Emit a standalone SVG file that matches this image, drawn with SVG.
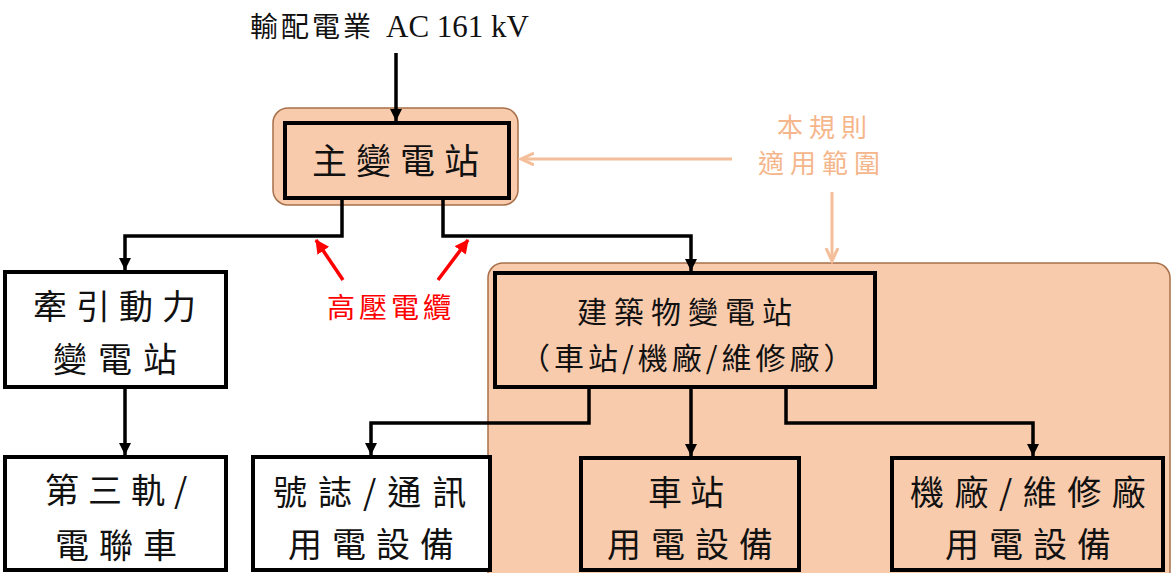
<svg xmlns="http://www.w3.org/2000/svg" width="1172" height="573" viewBox="0 0 1172 573">
<defs>
<style>
.box{fill:#fff;stroke:#000;stroke-width:4}
.obox{fill:#F8CBAD;stroke:#000;stroke-width:4}
.region{fill:#F8CBAD;stroke:#A8704A;stroke-width:1.5}
.t{font-family:"Noto Sans CJK TC","Noto Sans CJK SC",sans-serif;fill:#111}
.c{fill:none;stroke:#000;stroke-width:3.5}
.r{fill:none;stroke:#FF0000;stroke-width:3.5}
.o{fill:none;stroke:#F5BE9A;stroke-width:3}
</style>
<marker id="ab" markerUnits="userSpaceOnUse" markerWidth="14" markerHeight="14" refX="12" refY="6" orient="auto">
<path d="M0,0 L12,6 L0,12 Z" fill="#000"/>
</marker>
<marker id="ar" markerUnits="userSpaceOnUse" markerWidth="16" markerHeight="16" refX="13" refY="7" orient="auto">
<path d="M0,0 L14,7 L0,14 Z" fill="#FF0000"/>
</marker>
<marker id="ao" markerUnits="userSpaceOnUse" markerWidth="16" markerHeight="16" refX="13" refY="7" orient="auto">
<path d="M0,1 L13,7 L0,13" fill="none" stroke="#F5BE9A" stroke-width="3"/>
</marker>
</defs>
<rect width="1172" height="573" fill="#fff"/>

<g id="scope-region">
<rect class="region" x="488" y="263" width="682" height="340" rx="15"/>
</g>

<g id="top-source">
<text class="t" x="250" y="37" font-size="28" letter-spacing="3">輸配電業<tspan x="386" font-family="'Liberation Serif',serif" font-size="31" letter-spacing="0">AC 161 kV</tspan></text>
</g>

<g id="main-substation">
<rect class="region" x="273" y="108" width="245" height="97" rx="15"/>
<rect class="obox" x="285" y="123" width="224" height="75"/>
<text class="t" x="312" y="174" font-size="35" letter-spacing="9">主變電站</text>
</g>

<g id="traction-substation">
<rect class="box" x="5" y="272" width="221" height="115"/>
<text class="t" x="33" y="319" font-size="34" letter-spacing="9">牽引動力</text>
<text class="t" x="53" y="372" font-size="34" letter-spacing="11">變電站</text>
</g>

<g id="third-rail">
<rect class="box" x="5" y="457" width="221" height="113"/>
<text class="t" x="45" y="503" font-size="34" letter-spacing="9">第三軌/</text>
<text class="t" x="55" y="558" font-size="34" letter-spacing="10">電聯車</text>
</g>

<g id="signal-comm">
<rect class="box" x="253" y="457" width="237" height="113"/>
<text class="t" x="273" y="505" font-size="34" letter-spacing="11">號誌/通訊</text>
<text class="t" x="288" y="557" font-size="34" letter-spacing="10">用電設備</text>
</g>

<g id="building-substation">
<rect class="obox" x="495" y="273" width="380" height="114"/>
<text class="t" x="577" y="323" font-size="30" letter-spacing="7">建築物變電站</text>
<text class="t" x="520" y="369" font-size="30" letter-spacing="4">（車站/機廠/維修廠）</text>
</g>

<g id="station-equipment">
<rect class="obox" x="581" y="458" width="218" height="112"/>
<text class="t" x="690" y="505" font-size="34" letter-spacing="8" text-anchor="middle">車站</text>
<text class="t" x="607" y="557" font-size="34" letter-spacing="10">用電設備</text>
</g>

<g id="depot-equipment">
<rect class="obox" x="892" y="458" width="271" height="112"/>
<text class="t" x="910" y="505" font-size="34" letter-spacing="10.5">機廠/維修廠</text>
<text class="t" x="945" y="557" font-size="34" letter-spacing="10">用電設備</text>
</g>

<g id="scope-label">
<text x="777" y="137" font-family="'Noto Sans CJK TC',sans-serif" font-size="26" letter-spacing="6" fill="#F5B68C">本規則</text>
<text x="758" y="173" font-family="'Noto Sans CJK TC',sans-serif" font-size="26" letter-spacing="6" fill="#F5B68C">適用範圍</text>
</g>

<g id="cable-label">
<text x="327" y="318" font-family="'Noto Sans CJK TC',sans-serif" font-size="28" letter-spacing="4" fill="#FF0000">高壓電纜</text>
</g>

<g id="connectors">
<path class="c" d="M396,53 V121" marker-end="url(#ab)"/>
<path class="c" d="M342,198 V236 H125 V270" marker-end="url(#ab)"/>
<path class="c" d="M443,198 V236 H691 V271" marker-end="url(#ab)"/>
<path class="c" d="M125,387 V455" marker-end="url(#ab)"/>
<path class="c" d="M589,387 V423 H371 V455" marker-end="url(#ab)"/>
<path class="c" d="M691,387 V456" marker-end="url(#ab)"/>
<path class="c" d="M786,387 V423 H1033 V456" marker-end="url(#ab)"/>
<path class="r" d="M343,280 L316,240" marker-end="url(#ar)"/>
<path class="r" d="M438,280 L468,240" marker-end="url(#ar)"/>
<path class="o" d="M732,159 H521" marker-end="url(#ao)"/>
<path class="o" d="M832,192 V261" marker-end="url(#ao)"/>
</g>
</svg>
